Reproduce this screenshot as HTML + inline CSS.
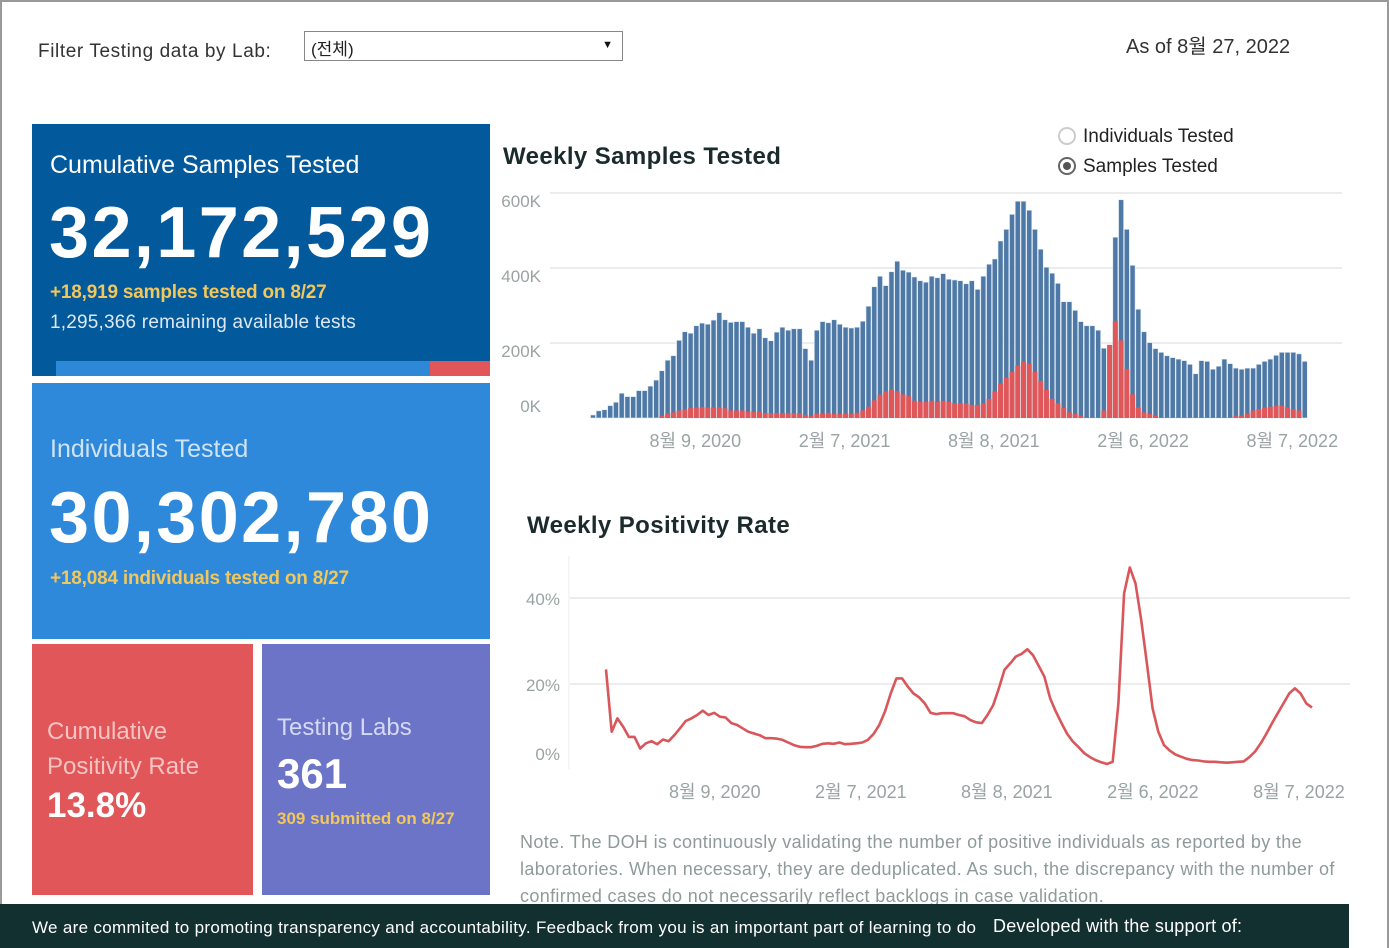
<!DOCTYPE html>
<html><head><meta charset="utf-8">
<style>
*{margin:0;padding:0;box-sizing:border-box}
body{width:1389px;height:948px;overflow:hidden;background:#fff;font-family:"Liberation Sans","Noto Sans CJK KR",sans-serif;position:relative}
.abs{position:absolute;white-space:nowrap}
.frame{position:absolute;left:0;top:0;width:1389px;height:948px;border:2px solid #9a9a9a;border-bottom:none;pointer-events:none}
.card{position:absolute;color:#fff;overflow:hidden}
.yel{color:#f2c75c;font-weight:bold}
</style></head><body>
<div class="frame"></div>
<div class="abs" style="left:38px;top:41px;font-size:19px;color:#333;letter-spacing:0.6px">Filter Testing data by Lab:</div>
<div class="abs" style="left:304px;top:31px;width:319px;height:30px;border:1px solid #888;background:#fff">
 <span class="abs" style="left:6px;top:3px;font-size:17px;color:#222">(전체)</span>
 <span class="abs" style="right:9px;top:7px;font-size:11px;color:#111">▼</span>
</div>
<div class="abs" style="left:1126px;top:30px;font-size:20px;color:#333">As of 8월 27, 2022</div>

<div class="card" style="left:32px;top:124px;width:458px;height:252px;background:#02599c">
 <div class="abs" style="left:18px;top:27px;font-size:25px;letter-spacing:0px">Cumulative Samples Tested</div>
 <div class="abs" style="left:17px;top:68px;font-size:72px;font-weight:bold;letter-spacing:2.4px">32,172,529</div>
 <div class="abs yel" style="left:18px;top:158px;font-size:19px;letter-spacing:-0.2px">+18,919 samples tested on 8/27</div>
 <div class="abs" style="left:18px;top:188px;font-size:19px;color:#dfe8f2;letter-spacing:0.2px">1,295,366 remaining available tests</div>
 <div class="abs" style="left:24px;top:237px;width:374px;height:15px;background:#2e88d8"></div>
 <div class="abs" style="left:398px;top:237px;width:60px;height:15px;background:#e15759"></div>
</div>
<div class="card" style="left:32px;top:383px;width:458px;height:256px;background:#2e89da">
 <div class="abs" style="left:18px;top:52px;font-size:25px;color:#cfe3f5">Individuals Tested</div>
 <div class="abs" style="left:17px;top:94px;font-size:72px;font-weight:bold;letter-spacing:2.4px">30,302,780</div>
 <div class="abs yel" style="left:18px;top:185px;font-size:19px;letter-spacing:-0.2px">+18,084 individuals tested on 8/27</div>
</div>
<div class="card" style="left:32px;top:644px;width:221px;height:251px;background:#e05659">
 <div class="abs" style="left:15px;top:70px;font-size:24px;line-height:35px;color:#f6c3c3;white-space:normal;width:200px">Cumulative Positivity Rate</div>
 <div class="abs" style="left:15px;top:142px;font-size:35px;font-weight:bold">13.8%</div>
</div>
<div class="card" style="left:262px;top:644px;width:228px;height:251px;background:#6b74c6">
 <div class="abs" style="left:15px;top:70px;font-size:24px;color:#d6d9f3">Testing Labs</div>
 <div class="abs" style="left:15px;top:106px;font-size:42px;font-weight:bold">361</div>
 <div class="abs yel" style="left:15px;top:165px;font-size:17px;letter-spacing:0px">309 submitted on 8/27</div>
</div>

<div class="abs" style="left:503px;top:143px;font-size:24px;font-weight:bold;color:#1b2b2b;letter-spacing:0.4px">Weekly Samples Tested</div>
<div class="abs" style="left:1058px;top:126px;font-size:19px;color:#222"><span style="display:inline-block;width:18px;height:18px;border:2px solid #ccc;border-radius:50%;vertical-align:-3px;margin-right:7px"></span>Individuals Tested</div>
<div class="abs" style="left:1058px;top:156px;font-size:19px;color:#222"><span style="display:inline-block;width:18px;height:18px;border:2px solid #666;border-radius:50%;vertical-align:-3px;margin-right:7px;position:relative"><span style="position:absolute;left:3px;top:3px;width:8px;height:8px;border-radius:50%;background:#555"></span></span>Samples Tested</div>

<svg class="abs" style="left:0;top:0" width="1389" height="948" id="charts"></svg>

<div class="abs" style="left:527px;top:512px;font-size:24px;font-weight:bold;color:#1b2b2b;letter-spacing:0.4px">Weekly Positivity Rate</div>
<div class="abs" style="left:520px;top:829px;width:840px;font-size:18px;line-height:27px;color:#8f9a9a;white-space:normal;height:75px;overflow:hidden;letter-spacing:0.35px">Note. The DOH is continuously validating the number of positive individuals as reported by the laboratories. When necessary, they are deduplicated. As such, the discrepancy with the number of confirmed cases do not necessarily reflect backlogs in case validation.</div>
<div class="abs" style="left:0;top:904px;width:1349px;height:44px;background:#12302f">
 <span class="abs" style="left:32px;top:14px;font-size:17px;color:#fff;letter-spacing:0.32px">We are commited to promoting transparency and accountability. Feedback from you is an important part of learning to do</span>
 <span class="abs" style="left:993px;top:12px;font-size:18px;color:#fff;letter-spacing:0.2px">Developed with the support of:</span>
</div>

<script>
const sampleTotals=[8,19,22,33,42,66,57,57,73,73,85,101,126,154,166,207,230,226,246,253,250,261,281,262,255,257,257,242,226,238,214,206,229,242,234,238,238,185,154,234,257,254,262,250,242,240,242,258,298,350,378,353,390,418,394,389,376,366,362,378,374,385,370,368,366,358,366,343,378,410,424,472,503,543,578,578,554,503,450,402,386,359,310,310,287,257,246,246,234,186,194,482,582,503,407,290,230,201,185,175,166,161,157,153,143,118,153,151,130,138,157,145,133,130,133,133,143,151,157,167,175,175,175,171,151];
const samplePositive=[0,0,0,0,0,0,0,0,0,0,0,0,6,12,15,20,23,26,28,29,28,28,28,26,20,20,20,17,17,17,13,13,13,13,13,13,13,8,6,11,11,14,11,11,11,11,14,20,30,47,62,71,76,72,63,58,46,43,43,46,43,46,43,39,39,39,35,35,39,51,71,92,107,123,140,151,145,123,99,75,51,39,27,15,11,6,2,2,2,20,195,259,207,131,63,28,15,11,6,2,2,2,2,2,2,2,2,2,2,2,2,2,6,6,11,20,24,28,30,33,33,28,24,20];
const barTicks=[0,200,400,600];
const barTickLabels=["0K","200K","400K","600K"];
const positivity=[23.4,8.9,12.0,10.1,7.7,7.7,5.0,6.2,6.7,6.0,7.1,6.7,8.1,9.7,11.4,12.0,12.8,13.8,12.8,13.3,12.4,12.2,10.9,10.5,9.7,8.9,8.5,8.1,7.4,7.4,7.3,7.0,6.4,5.8,5.4,5.3,5.3,5.6,6.1,6.2,6.1,6.4,6.0,6.1,6.2,6.4,7.0,8.4,10.5,13.6,17.8,21.3,21.3,19.4,17.8,16.9,15.5,13.3,13.0,13.2,13.2,13.2,12.8,12.5,11.6,11.1,10.9,12.8,15.1,19.0,23.3,24.8,26.4,27.0,28.1,26.7,24.2,21.7,16.7,13.6,10.9,8.4,6.6,5.3,3.9,3.0,2.3,1.8,1.4,1.9,15.5,41.1,47.1,43.4,34.9,24.8,14.3,8.9,5.8,4.5,3.6,3.1,2.6,2.3,2.2,2.0,1.9,1.9,1.8,1.7,1.8,1.9,2.0,3.0,4.3,6.2,8.5,10.9,13.2,15.5,17.8,19.0,17.8,15.5,14.5];
const posTicks=[0,20,40];
const posTickLabels=["0%","20%","40%"];
const dateLabels=["8월 9, 2020","2월 7, 2021","8월 8, 2021","2월 6, 2022","8월 7, 2022"];
const dateWeekIdx=[18,44,70,96,122];

const NS="http://www.w3.org/2000/svg";
const svg=document.getElementById('charts');
function mk(tag,attrs,name){const e=document.createElementNS(NS,tag);for(const k in attrs)e.setAttribute(k,attrs[k]);


svg.appendChild(e);return e;}
function txt(x,y,s,anchor,name,size){const t=mk('text',{x:x,y:y,'text-anchor':anchor,'font-size':size||18,fill:'#9aa3a3','font-family':'"Liberation Sans","Noto Sans CJK KR",sans-serif'},name);t.textContent=s;return t;}

const bx0=593,bstep=5.74,bw=5.0;
const bxs=i=>bx0+i*bstep;
const bys=v=>418-v*0.375;
barTicks.forEach((t,i)=>{if(t>0)mk('line',{x1:550,x2:1342,y1:bys(t),y2:bys(t),stroke:'#e6e6e6','stroke-width':1.5},'bar-gridline');
 txt(541,bys(t)+(t===0?-6:14),barTickLabels[i],'end','bar-y-tick-label',17);});
sampleTotals.forEach((v,i)=>{
 mk('rect',{x:bxs(i)-bw/2,y:bys(v),width:bw,height:418-bys(v),fill:'#4e78a6',stroke:'#dce8f2','stroke-width':0.6},'bar-samples');
 const p=samplePositive[i];
 if(p>0)mk('rect',{x:bxs(i)-bw/2,y:bys(p),width:bw,height:418-bys(p),fill:'#e05759'},'bar-positive');
});
dateLabels.forEach((d,i)=>txt(bxs(dateWeekIdx[i])-1,447,d,'middle','bar-x-tick-label',18));

const lx0=606,lstep=(1312-606)/(positivity.length-1);
const lxs=i=>lx0+i*lstep;
const lys=v=>770-v*4.3;
mk('line',{x1:569,x2:569,y1:556,y2:770,stroke:'#eee','stroke-width':1},'line-y-axis');
posTicks.forEach((t,i)=>{if(t>0)mk('line',{x1:570,x2:1350,y1:lys(t),y2:lys(t),stroke:'#e6e6e6','stroke-width':1.5},'line-gridline');
 txt(560,Math.min(lys(t),753)+7,posTickLabels[i],'end','line-y-tick-label',17);});
mk('path',{d:positivity.map((v,i)=>(i?'L':'M')+lxs(i).toFixed(1)+','+lys(v).toFixed(1)).join(''),fill:'none',stroke:'#d9575b','stroke-width':2.6,'stroke-linejoin':'round'},'positivity-line');
dateLabels.forEach((d,i)=>txt(lxs(dateWeekIdx[i]-1)+12-i*2,798,d,'middle','line-x-tick-label',18));
</script>
</body></html>
